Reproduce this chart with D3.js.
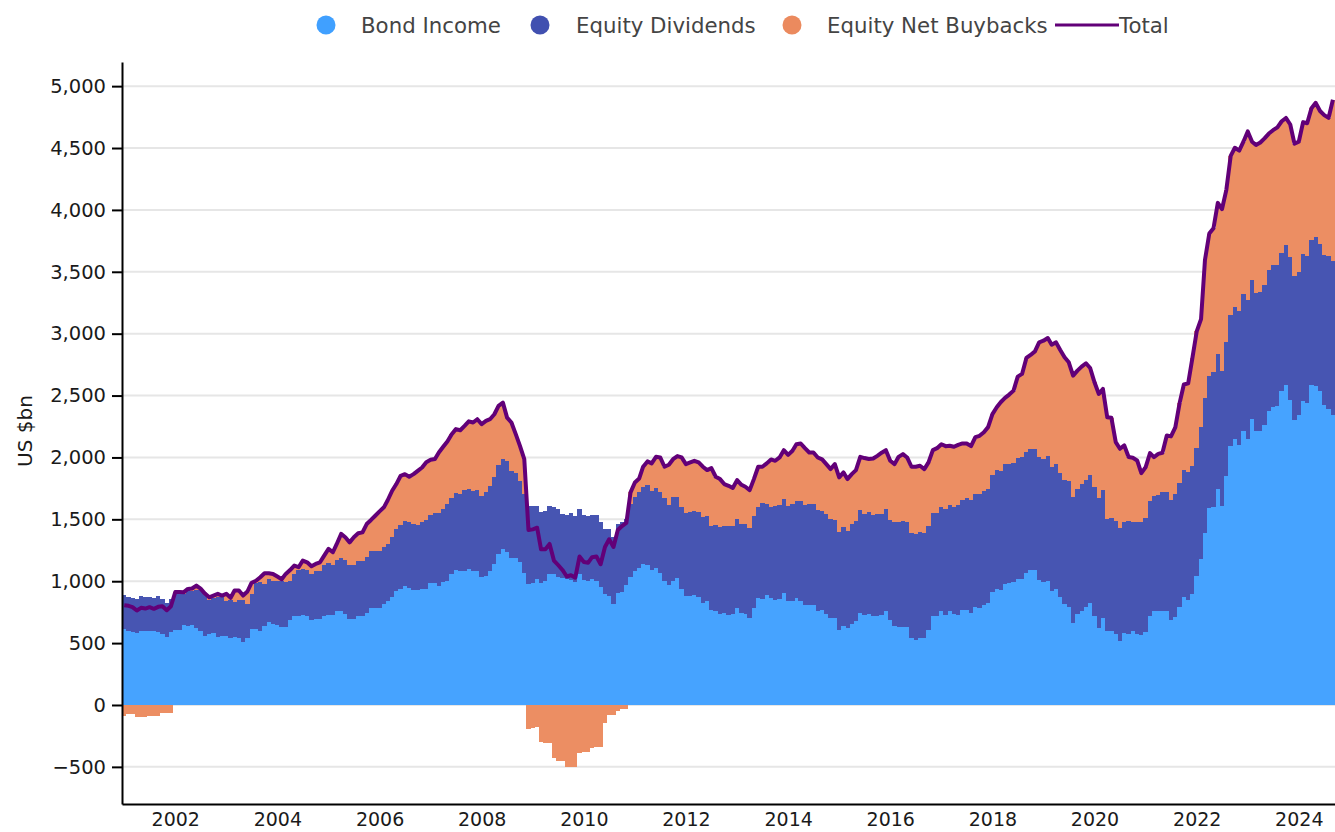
<!DOCTYPE html>
<html>
<head>
<meta charset="utf-8">
<script src="https://cdn.jsdelivr.net/npm/d3@7"></script>
<style>
html,body{margin:0;padding:0;background:#fff;}
svg{display:block;font-family:"DejaVu Sans",Verdana,sans-serif;}
</style>
</head>
<body>
<svg id="chart" width="1335" height="832"></svg>
<script>
// ---------------- DATA (US $bn, monthly, Jan 2001 – Sep 2024) ----------------
const firstMonth = [2001, 0]; // year, month index of first bar
const seriesNames = ["Bond Income", "Equity Dividends", "Equity Net Buybacks"];
const totalName = "Total";

const bondIncome = [
  613,597,589,581,597,597,597,597,589,575,551,589,
  602,607,650,640,645,621,597,559,570,583,548,554,
  559,543,551,543,511,538,613,613,597,640,667,656,
  650,634,634,688,715,715,726,715,683,694,694,715,
  731,726,758,763,737,694,694,720,720,745,785,785,
  780,817,839,876,917,938,962,946,930,925,938,941,
  984,989,965,997,1005,1059,1091,1086,1086,1097,1086,1081,
  1032,1046,1081,1140,1220,1258,1237,1185,1185,1153,1064,978,
  987,1019,987,1005,1059,1059,1038,1027,1019,1011,995,1059,
  1013,1005,1016,1005,957,898,882,812,903,909,973,1032,
  1081,1107,1140,1134,1091,1107,1064,1005,973,1005,1027,935,
  884,882,890,871,823,844,769,763,737,747,731,737,
  785,747,737,704,785,866,855,890,866,849,855,903,
  844,844,866,844,804,806,809,760,769,737,704,699,
  607,637,624,656,677,747,726,737,718,718,731,758,
  683,640,629,634,634,543,527,543,540,607,715,715,
  758,731,758,737,728,771,771,742,790,785,806,828,
  912,941,933,976,987,992,1021,1016,1067,1089,1089,1013,
  995,1003,922,941,874,814,793,664,734,761,793,820,
  718,621,702,594,599,573,519,578,573,594,573,562,
  591,718,761,758,759,759,686,709,792,874,851,897,
  1039,1181,1392,1590,1600,1748,1609,1847,2091,2150,2104,2216,
  2150,2309,2210,2216,2259,2375,2408,2414,2533,2589,2467,2302,
  2342,2457,2441,2589,2579,2533,2424,2391,2342
];

const equityDividends = [
  279,279,277,279,285,279,279,269,293,285,277,271,
  296,291,248,285,274,309,328,326,280,283,328,316,
  285,303,280,306,338,279,285,371,395,338,352,349,
  355,371,358,312,344,376,376,376,376,387,387,414,
  419,403,414,425,435,435,435,447,447,454,457,457,
  462,457,462,484,502,519,527,532,532,532,540,554,
  548,559,583,584,619,613,619,618,650,650,645,655,
  653,672,690,704,715,728,736,707,691,653,640,632,
  618,588,569,559,548,538,545,516,519,537,534,527,
  525,524,522,533,519,524,540,548,559,569,530,592,
  596,613,618,643,640,646,654,667,645,672,656,662,
  667,674,680,685,698,683,680,694,704,699,715,709,
  718,715,725,726,744,736,774,734,736,758,763,761,
  763,780,784,806,814,818,815,812,801,806,799,795,
  788,798,784,806,812,828,817,819,820,825,812,828,
  811,838,849,855,847,844,852,852,850,837,833,833,
  839,850,860,865,885,885,901,914,914,919,925,919,
  943,954,957,967,962,962,976,987,979,981,981,990,
  994,1005,1000,1008,1000,1006,1016,1016,1011,1027,1027,1040,
  1043,1054,1037,911,914,913,914,903,913,887,908,914,
  917,930,930,938,963,963,970,999,1005,1022,1029,1032,
  1039,1068,1088,1065,1088,1088,1089,1082,1059,1066,1079,1108,
  1122,1121,1121,1122,1131,1137,1147,1141,1121,1125,1154,1161,
  1160,1184,1187,1171,1204,1194,1210,1237,1246
];

const equityNetBuybacks = [
  -86,-75,-75,-97,-97,-97,-86,-89,-89,-62,-62,-62,
  15,15,12,13,22,35,15,15,20,18,22,14,
  54,20,94,76,35,100,90,20,40,86,45,54,
  33,11,67,90,67,22,65,62,62,59,72,78,
  111,105,129,194,183,185,226,220,228,263,253,287,
  322,323,355,371,366,395,376,366,403,435,441,467,
  449,439,492,505,505,516,519,516,519,545,551,573,
  584,578,538,505,482,457,349,390,312,288,283,-196,
  -186,-175,-298,-306,-306,-430,-452,-452,-500,-500,-500,-387,
  -383,-379,-344,-339,-339,-145,-83,-83,-48,-32,-32,94,
  121,110,167,191,221,252,282,253,323,309,328,403,
  395,404,403,404,404,371,465,387,384,339,325,307,
  314,317,301,306,296,323,296,328,382,366,382,395,
  414,430,457,463,457,416,416,428,414,403,403,452,
  444,444,417,403,409,430,452,431,454,470,495,473,
  479,468,527,538,519,538,546,538,516,516,511,527,
  510,510,476,484,489,457,441,435,460,471,473,498,
  495,511,556,538,559,586,656,672,758,758,787,927,
  954,957,989,981,994,989,960,981,956,946,941,863,
  846,838,815,820,807,638,637,616,517,516,495,397,
  414,387,312,333,316,455,514,535,644,693,719,874,
  940,868,1115,1154,1164,1221,1309,1233,1286,1286,1296,1227,
  1362,1121,1194,1207,1188,1105,1089,1112,1062,1029,1069,1072,
  1049,1068,1072,1062,1082,1072,1132,1115,1302
];

const yTickValues = [-500, 0, 500, 1000, 1500, 2000, 2500, 3000, 3500, 4000, 4500, 5000];
const xTickYears = [2002, 2004, 2006, 2008, 2010, 2012, 2014, 2016, 2018, 2020, 2022, 2024];
const yAxisTitle = "US $bn";

// ---------------- STYLE ----------------
const colors = {
  "Bond Income": "#40a0ff",
  "Equity Dividends": "#4150b0",
  "Equity Net Buybacks": "#eb8a5e",
  "Total": "#620078"
};
const plot = {left: 122, right: 1335, top: 62, bottom: 804};

// ---------------- BUILD ----------------
const rows = bondIncome.map((b, i) => ({
  date: new Date(firstMonth[0], firstMonth[1] + i, 1),
  start: new Date(firstMonth[0], firstMonth[1] + i - 1, 16),
  end: new Date(firstMonth[0], firstMonth[1] + i, 16),
  "Bond Income": b,
  "Equity Dividends": equityDividends[i],
  "Equity Net Buybacks": equityNetBuybacks[i]
}));
rows.forEach(r => { r.total = r["Bond Income"] + r["Equity Dividends"] + r["Equity Net Buybacks"]; });

const x = d3.scaleTime()
  .domain([rows[0].start, rows[rows.length - 1].end])
  .range([plot.left, plot.right]);
const y = d3.scaleLinear()
  .domain([-800, 5195])
  .range([plot.bottom, plot.top]);

const svg = d3.select("#chart");

svg.append("defs").append("clipPath").attr("id", "clip")
  .append("rect")
  .attr("x", plot.left).attr("y", plot.top - 4)
  .attr("width", plot.right - plot.left).attr("height", plot.bottom - plot.top + 4);

// gridlines
svg.append("g").selectAll("line").data(yTickValues).join("line")
  .attr("x1", plot.left).attr("x2", plot.right)
  .attr("y1", d => y(d)).attr("y2", d => y(d))
  .attr("stroke", "#e6e6e6").attr("stroke-width", 2);

// stacked bars
const stack = d3.stack().keys(seriesNames).offset(d3.stackOffsetDiverging);
const layers = stack(rows);

const barG = svg.append("g").attr("clip-path", "url(#clip)");
barG.selectAll("g.layer").data(layers).join("g")
  .attr("class", "layer")
  .attr("fill", d => colors[d.key])
  .attr("fill-opacity", 0.97)
  .selectAll("rect").data(d => d).join("rect")
  .attr("x", d => x(d.data.start))
  .attr("width", d => x(d.data.end) - x(d.data.start))
  .attr("y", d => y(Math.max(d[0], d[1])))
  .attr("height", d => Math.abs(y(d[0]) - y(d[1])))
  .attr("shape-rendering", "crispEdges");

// total line
svg.append("path")
  .datum(rows)
  .attr("clip-path", "url(#clip)")
  .attr("fill", "none")
  .attr("stroke", colors.Total)
  .attr("stroke-width", 4)
  .attr("stroke-linejoin", "round")
  .attr("d", d3.line().x(d => x(d.date)).y(d => y(d.total)));

// axes
const yAxis = svg.append("g")
  .attr("transform", `translate(${plot.left},0)`)
  .call(d3.axisLeft(y).tickValues(yTickValues).tickFormat(d3.format(",")).tickSize(10).tickSizeOuter(0).tickPadding(6));
yAxis.select(".domain").attr("stroke", "#000").attr("stroke-width", 2);
yAxis.selectAll(".tick line").attr("stroke", "#000").attr("stroke-width", 2);
yAxis.selectAll(".tick text").attr("font-size", 19.5).attr("fill", "#1a1a1a")
  .attr("font-family", "DejaVu Sans, Verdana, sans-serif");

const xAxis = svg.append("g")
  .attr("transform", `translate(0,${plot.bottom})`)
  .call(d3.axisBottom(x).tickValues(xTickYears.map(yr => new Date(yr, 0, 1)))
    .tickFormat(d3.timeFormat("%Y")).tickSize(0).tickSizeOuter(0).tickPadding(9));
xAxis.select(".domain").attr("stroke", "#000").attr("stroke-width", 2);
xAxis.selectAll(".tick text").attr("font-size", 19).attr("fill", "#1a1a1a")
  .attr("font-family", "DejaVu Sans, Verdana, sans-serif");

// y-axis title
svg.append("text")
  .attr("transform", "translate(32,431) rotate(-90)")
  .attr("text-anchor", "middle")
  .attr("font-size", 20).attr("fill", "#1a1a1a")
  .text(yAxisTitle);

// legend
const legendY = 25;
const legendItems = [
  {name: "Bond Income", type: "circle", cx: 326, tx: 361},
  {name: "Equity Dividends", type: "circle", cx: 540, tx: 576},
  {name: "Equity Net Buybacks", type: "circle", cx: 792, tx: 827},
  {name: totalName, type: "line", x1: 1055, x2: 1119, tx: 1119}
];
const lg = svg.append("g");
legendItems.forEach(it => {
  if (it.type === "circle") {
    lg.append("circle").attr("cx", it.cx).attr("cy", legendY).attr("r", 9.5).attr("fill", colors[it.name]);
  } else {
    lg.append("line").attr("x1", it.x1).attr("x2", it.x2).attr("y1", legendY).attr("y2", legendY)
      .attr("stroke", colors[it.name]).attr("stroke-width", 3);
  }
  lg.append("text").attr("x", it.tx).attr("y", legendY).attr("dy", "0.36em")
    .attr("font-size", 21.3).attr("fill", "#444").text(it.name);
});
</script>
</body>
</html>
